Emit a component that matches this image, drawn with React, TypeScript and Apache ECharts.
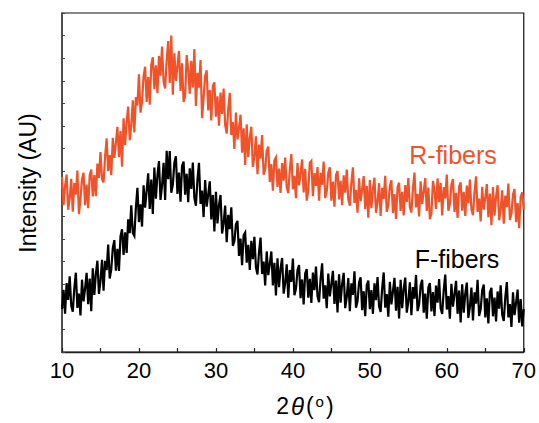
import React, { useEffect, useRef } from "react";
import * as echarts from "echarts";

// 2θ sampling grid: 10° to 70° in 0.2° steps
const TWO_THETA_START = 10;
const TWO_THETA_STEP = 0.2;

// R-fibers intensity (arbitrary units), 5 points per degree
const rFibers = [
  775, 650, 735, 785, 630, 680, 766, 621, 747, 697, 803, 610, 678, 765, 793,
  650, 741, 636, 782, 807, 688, 783, 689, 834, 770, 885, 765, 750, 865, 945,
  800, 871, 782, 948, 859, 925, 996, 862, 978, 820, 1034, 916, 1020, 1086, 937,
  1002, 1114, 972, 1128, 1091, 1229, 1059, 1108, 1220, 1262, 1106, 1217, 1094, 1271, 1304,
  1163, 1268, 1145, 1310, 1223, 1352, 1196, 1166, 1292, 1376, 1190, 1400, 1138, 1322, 1200,
  1264, 1332, 1155, 1277, 1106, 1132, 1314, 1249, 1143, 1288, 1170, 1340, 1089, 1235, 1170,
  1292, 1035, 1125, 1221, 1246, 1069, 1159, 1025, 1178, 1193, 1041, 1131, 1001, 1148, 1053,
  1166, 1005, 966, 1076, 1147, 960, 1017, 898, 1060, 940, 992, 1050, 882, 990, 828,
  1007, 862, 949, 997, 819, 867, 954, 787, 918, 856, 960, 784, 808, 890, 909,
  752, 831, 714, 848, 861, 730, 812, 704, 836, 758, 860, 729, 703, 807, 876,
  720, 780, 681, 836, 737, 792, 852, 706, 811, 670, 715, 838, 846, 689, 792,
  735, 818, 670, 793, 740, 843, 681, 710, 793, 817, 670, 754, 643, 782, 801,
  675, 757, 650, 782, 705, 807, 675, 647, 750, 817, 660, 718, 616, 769, 667,
  720, 778, 632, 735, 594, 761, 636, 721, 771, 616, 662, 747, 602, 727, 677,
  780, 620, 650, 735, 760, 614, 699, 589, 729, 749, 624, 709, 604, 739, 664,
  770, 641, 617, 723, 794, 640, 700, 600, 755, 655, 710, 770, 624, 728, 588,
  612, 757, 717, 633, 768, 663, 748, 604, 729, 680, 785, 625, 655, 740, 765,
  620, 704, 593, 732, 751, 625, 709, 602, 736, 659, 763, 631, 605, 708, 777,
  620, 679, 578, 731, 630, 684, 743, 597, 701, 561, 730, 603, 688, 738, 583,
  631, 715, 568, 692, 641, 745, 584, 613, 697, 721, 575, 659, 548, 687, 706,
  630,
];

// F-fibers intensity (arbitrary units), 5 points per degree
const fFibers = [
  190, 275, 170, 305, 230, 335, 204, 178, 282, 351, 195, 258, 162, 320, 224,
  282, 350, 212, 325, 180, 370, 253, 346, 404, 257, 315, 408, 271, 404, 362,
  475, 325, 365, 460, 495, 360, 457, 359, 511, 543, 430, 529, 438, 587, 526,
  649, 527, 514, 639, 726, 575, 653, 555, 738, 639, 713, 791, 633, 763, 611,
  816, 678, 782, 845, 673, 736, 837, 673, 890, 765, 889, 705, 740, 838, 866,
  699, 794, 665, 823, 843, 696, 789, 663, 813, 722, 838, 682, 647, 762, 837,
  655, 714, 597, 761, 643, 697, 755, 587, 695, 533, 709, 569, 651, 695, 524,
  569, 648, 486, 607, 544, 640, 470, 490, 565, 580, 425, 502, 384, 516, 528,
  395, 474, 363, 492, 411, 510, 374, 343, 442, 506, 345, 400, 295, 445, 340,
  390, 445, 295, 395, 250, 415, 287, 369, 416, 258, 305, 388, 240, 363, 310,
  413, 251, 279, 362, 385, 238, 321, 210, 348, 367, 240, 324, 217, 351, 274,
  378, 247, 220, 324, 392, 236, 295, 194, 347, 246, 300, 359, 213, 316, 175,
  344, 218, 302, 350, 194, 243, 327, 181, 304, 253, 357, 196, 224, 308, 331,
  185, 269, 158, 297, 316, 189, 274, 169, 304, 229, 332, 202, 177, 282, 352,
  196, 256, 156, 311, 211, 268, 328, 183, 288, 148, 319, 194, 279, 329, 174,
  224, 308, 163, 287, 236, 341, 181, 210, 295, 319, 174, 258, 147, 286, 305,
  180, 265, 159, 294, 218, 323, 193, 168, 273, 343, 188, 248, 147, 302, 201,
  256, 315, 169, 272, 131, 300, 174, 258, 307, 151, 200, 285, 140, 264, 214,
  319, 159, 189, 274, 298, 153, 237, 126, 265, 284, 158, 241, 135, 268, 192,
  295, 164, 137, 241, 309, 153, 212, 111, 264, 163, 217, 276, 130, 234, 113,
  190,
];

const xTicks = { min: 10, max: 70, interval: 10 };
const yTicks = { min: 0, max: 1500, interval: 100 };

const seriesNames = ["R-fibers", "F-fibers"];
const seriesColors = ["#F0522A", "#000000"];

const FONT = "'Liberation Sans', Arial, Helvetica, sans-serif";

function toPairs(vals: number[]) {
  return vals.map((v, i) => [+(TWO_THETA_START + i * TWO_THETA_STEP).toFixed(2), v]);
}

export default function App() {
  const ref = useRef<HTMLDivElement>(null);

  useEffect(() => {
    document.body.style.margin = "0";
    const chart = echarts.init(ref.current!, null, { renderer: "svg" });
    const axisColor = "#222";
    chart.setOption({
      animation: false,
      backgroundColor: "#fff",
      grid: {
        left: 62,
        right: 13,
        top: 13,
        bottom: 69,
        show: true,
        borderColor: "#111",
        borderWidth: 1.2,
        backgroundColor: "transparent",
      },
      xAxis: {
        type: "value",
        min: xTicks.min,
        max: xTicks.max,
        interval: xTicks.interval,
        name: "{a|2}{b|θ}{a|(}{c|o}{a|)}",
        nameLocation: "middle",
        nameGap: 42,
        nameTextStyle: {
          fontSize: 22,
          fontFamily: FONT,
          color: "#000",
          padding: [0, 0, 0, 24],
          rich: {
            a: { fontSize: 23, fontFamily: FONT, color: "#000" },
            b: { fontSize: 24, fontFamily: FONT, fontStyle: "italic", color: "#000", padding: [0, 2, 0, 2] },
            c: { fontSize: 15, fontFamily: FONT, color: "#000", verticalAlign: "top", padding: [0, 2, 0, 2] },
          },
        },
        axisLine: { show: true, lineStyle: { color: axisColor, width: 1.3 } },
        axisTick: { show: true, inside: true, length: 4, lineStyle: { color: axisColor, width: 1.2 } },
        minorTick: { show: true, splitNumber: 2, length: 4, lineStyle: { color: axisColor, width: 1.2 } },
        axisLabel: { fontSize: 22, color: "#000", fontFamily: FONT, margin: 7 },
        splitLine: { show: false },
      },
      yAxis: {
        type: "value",
        min: yTicks.min,
        max: yTicks.max,
        interval: yTicks.interval,
        axisLine: { show: true, lineStyle: { color: "#444", width: 1.5 } },
        axisTick: { show: true, inside: true, length: 3, lineStyle: { color: "#444", width: 1 } },
        axisLabel: { show: false },
        splitLine: { show: false },
      },
      series: [
        {
          name: seriesNames[0],
          type: "line",
          data: toPairs(rFibers),
          showSymbol: false,
          symbol: "none",
          lineStyle: { color: seriesColors[0], width: 2.2, join: "miter", miterLimit: 4 },
          z: 2,
        },
        {
          name: seriesNames[1],
          type: "line",
          data: toPairs(fFibers),
          showSymbol: false,
          symbol: "none",
          lineStyle: { color: seriesColors[1], width: 2.2, join: "miter", miterLimit: 4 },
          z: 3,
        },
      ],
      graphic: [
        {
          type: "text",
          x: 453,
          y: 155,
          style: {
            text: seriesNames[0],
            fill: seriesColors[0],
            font: `25px ${FONT}`,
            align: "center",
            verticalAlign: "middle",
          },
        },
        {
          type: "text",
          x: 457,
          y: 259,
          style: {
            text: seriesNames[1],
            fill: seriesColors[1],
            font: `25px ${FONT}`,
            align: "center",
            verticalAlign: "middle",
          },
        },
        {
          type: "text",
          x: 28,
          y: 183,
          rotation: Math.PI / 2,
          style: {
            text: "Intensity (AU)",
            fill: "#000",
            font: `23px ${FONT}`,
            align: "center",
            verticalAlign: "middle",
          },
        },
      ],
    });
    return () => chart.dispose();
  }, []);

  return (
    <div
      ref={ref}
      style={{ position: "fixed", left: 0, top: 0, width: 539, height: 423 }}
    />
  );
}
